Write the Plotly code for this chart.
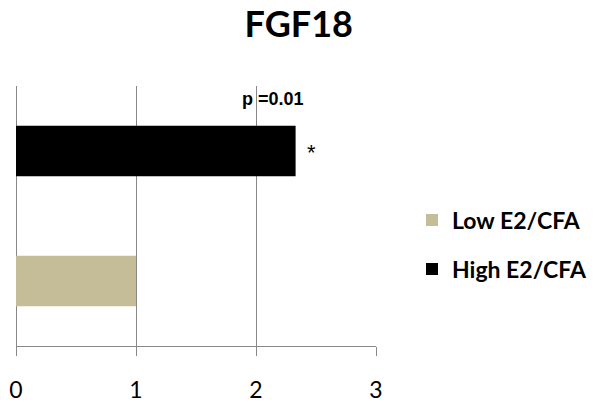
import plotly.graph_objects as go

categories = ["Low E2/CFA", "High E2/CFA"]
values = [1.0, 2.33]
colors = ["#C4BD97", "#000000"]
x_ticks = [0, 1, 2, 3]
p_text = "p =0.01"
p_pos = (2.14, 0.95)
star_pos = (2.46, 0.745)

fig = go.Figure()
for i, (cat, val, col) in enumerate(zip(categories, values, colors)):
    fig.add_trace(go.Bar(
        y=[cat], x=[val], orientation="h", name=f"<b>{cat}</b>",
        marker=dict(color=col, line=dict(width=0)),
        width=0.39, legendgroup=f"g{i}",
    ))

fig.update_layout(
    width=601, height=407,
    margin=dict(l=16, r=225, t=86, b=61, autoexpand=False),
    paper_bgcolor="white", plot_bgcolor="white",
    barmode="overlay",
    title=dict(text="<b>FGF18</b>", x=0.497, xref="container", xanchor="center",
               y=1 - 24 / 407, yref="container", yanchor="middle",
               font=dict(family="Lato", size=36, color="black")),
    showlegend=True,
    legend=dict(x=1.1, xanchor="left", y=0.39, yanchor="middle",
                traceorder="grouped", tracegroupgap=16,
                font=dict(family="Lato", size=23, color="black"),
                bgcolor="rgba(0,0,0,0)"),
    font=dict(family="Lato", color="black"),
)
fig.update_xaxes(
    range=[0, 3], tickvals=x_ticks, ticktext=[str(t) for t in x_ticks],
    automargin=False,
    showgrid=True, gridcolor="#888888", gridwidth=1,
    zeroline=True, zerolinecolor="#888888", zerolinewidth=1,
    showline=True, linecolor="#888888", linewidth=1,
    ticks="outside", ticklen=9, tickcolor="#888888",
    tickfont=dict(family="Lato", size=23, color="black"),
    ticklabelstandoff=14,
)
fig.update_yaxes(
    categoryorder="array", categoryarray=categories, automargin=False,
    showticklabels=False, showgrid=False, zeroline=False, showline=False,
    range=[-0.5, 1.5],
)
fig.add_annotation(x=p_pos[0], y=p_pos[1], xref="x", yref="paper", text=f"<b>{p_text}</b>",
                   showarrow=False, font=dict(family="Liberation Sans", size=18, color="black"),
                   xanchor="center", yanchor="middle")
fig.add_annotation(x=star_pos[0], y=star_pos[1], xref="x", yref="paper", text="*",
                   showarrow=False, font=dict(family="Liberation Sans", size=22, color="black"),
                   xanchor="center", yanchor="middle")

fig.write_html("out.html", config={"displayModeBar": False},
               post_script="document.body.style.margin='0px';document.body.style.overflow='hidden';")
